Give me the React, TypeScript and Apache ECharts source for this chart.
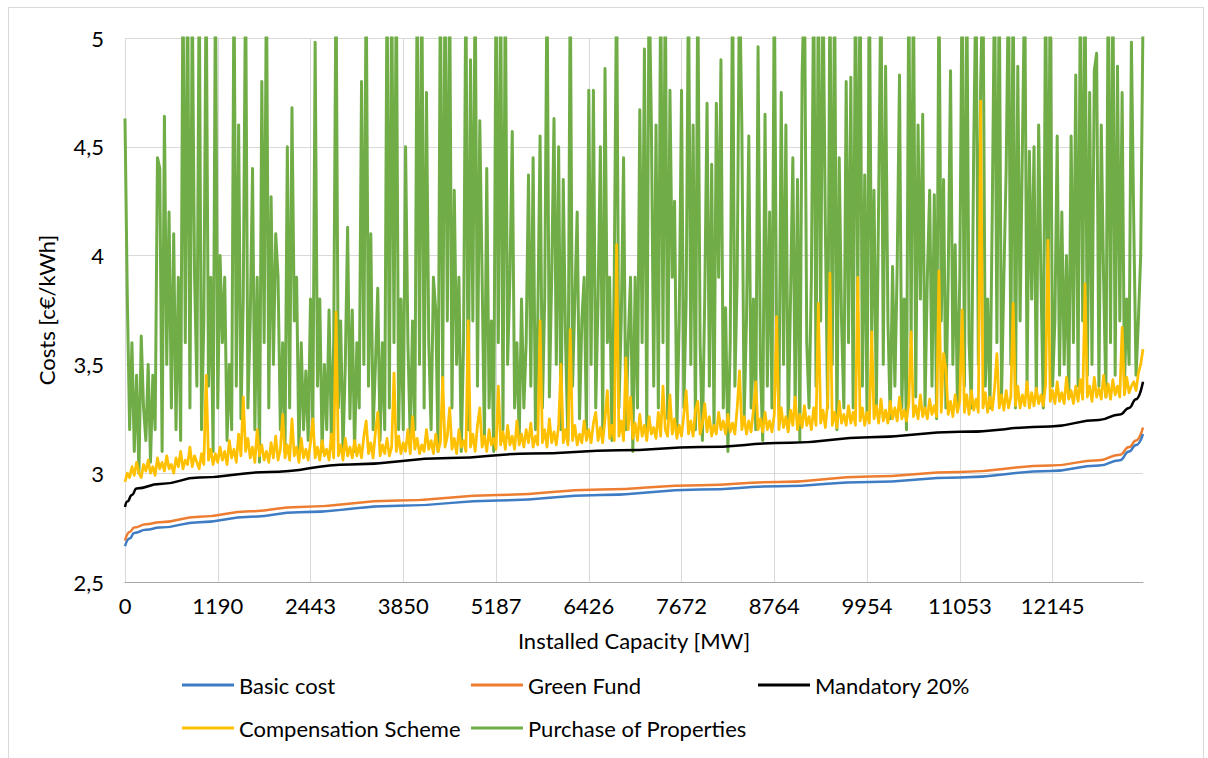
import React, { useEffect, useRef } from 'react';
import * as echarts from 'echarts';

// X-axis tick labels (installed capacity, MW), one every 40 points
const tickLabels = ['0', '1190', '2443', '3850', '5187', '6426', '7672', '8764', '9954', '11053', '12145'];
const pointsPerTick = 40;
const pointCount = 440;

// Smooth cost curves: [point index, c€/kWh]
const basicCost: [number, number][] = [
  [0, 2.665], [2, 2.70], [4, 2.725], [9, 2.74], [15, 2.75], [32, 2.775], [54, 2.80], [75, 2.82],
  [118, 2.85], [161, 2.875], [205, 2.90], [248, 2.925], [282, 2.94], [321, 2.96], [360, 2.98],
  [399, 3.01], [420, 3.035], [429, 3.06], [433, 3.10], [436, 3.13], [439, 3.18],
];
const greenFund: [number, number][] = [
  [0, 2.69], [2, 2.73], [4, 2.75], [9, 2.765], [15, 2.775], [32, 2.80], [54, 2.825], [75, 2.845],
  [118, 2.875], [161, 2.90], [205, 2.925], [248, 2.945], [282, 2.96], [321, 2.985], [360, 3.005],
  [399, 3.035], [420, 3.06], [429, 3.085], [433, 3.12], [436, 3.15], [439, 3.21],
];
const mandatory20: [number, number][] = [
  [0, 2.845], [1, 2.87], [3, 2.90], [5, 2.93], [15, 2.95], [32, 2.98], [62, 3.005], [97, 3.04],
  [140, 3.07], [175, 3.09], [213, 3.105], [248, 3.12], [287, 3.14], [321, 3.165], [360, 3.19],
  [399, 3.215], [420, 3.245], [429, 3.27], [433, 3.30], [436, 3.34], [439, 3.42],
];

// Compensation Scheme, one value per point
const compensation: number[] = [
  2.96, 3.0, 2.98, 3.03, 2.99, 3.05, 3.0, 2.98, 3.04, 3.01, 3.06, 3.0, 3.03, 2.99, 3.07, 3.02, 3.05, 3.01, 3.08, 3.02,
  3.04, 3.0, 3.07, 3.03, 3.1, 3.02, 3.06, 3.04, 3.12, 3.03, 3.08, 3.05, 3.02, 3.09, 3.04, 3.45, 3.06, 3.11, 3.04, 3.09,
  3.05, 3.12, 3.06, 3.1, 3.04, 3.15, 3.07, 3.11, 3.05, 3.18, 3.08, 3.35, 3.1, 3.16, 3.07, 3.12, 3.05, 3.2, 3.08, 3.13,
  3.06, 3.1, 3.05, 3.14, 3.07, 3.17, 3.06, 3.11, 3.27, 3.07, 3.13, 3.06, 3.25, 3.08, 3.12, 3.05, 3.16, 3.07, 3.11, 3.06,
  3.14, 3.25, 3.07, 3.12, 3.06, 3.15, 3.08, 3.11, 3.06, 3.18, 3.07, 3.74, 3.08, 3.13, 3.06, 3.16, 3.08, 3.12, 3.07, 3.15,
  3.08, 3.13, 3.07, 3.17, 3.24, 3.09, 3.14, 3.07, 3.19, 3.28, 3.08, 3.13, 3.09, 3.16, 3.08, 3.12, 3.46, 3.1, 3.17, 3.09,
  3.14, 3.1, 3.2, 3.09, 3.26, 3.11, 3.16, 3.09, 3.13, 3.1, 3.2, 3.11, 3.15, 3.09, 3.18, 3.1, 3.14, 3.44, 3.12, 3.17,
  3.3, 3.11, 3.16, 3.09, 3.2, 3.12, 3.15, 3.1, 3.7, 3.12, 3.18, 3.1, 3.22, 3.3, 3.12, 3.17, 3.1, 3.2, 3.13, 3.16,
  3.11, 3.4, 3.13, 3.19, 3.11, 3.22, 3.13, 3.17, 3.11, 3.24, 3.13, 3.18, 3.12, 3.2, 3.14, 3.23, 3.12, 3.17, 3.13, 3.7,
  3.14, 3.2, 3.12, 3.25, 3.14, 3.19, 3.13, 3.22, 3.5, 3.14, 3.2, 3.13, 3.66, 3.15, 3.22, 3.13, 3.18, 3.14, 3.24, 3.15,
  3.2, 3.14, 3.23, 3.28, 3.15, 3.21, 3.14, 3.25, 3.38, 3.16, 3.22, 3.15, 4.05, 3.17, 3.24, 3.15, 3.53, 3.2, 3.35, 3.16,
  3.23, 3.15, 3.27, 3.17, 3.22, 3.15, 3.26, 3.18, 3.21, 3.16, 3.28, 3.17, 3.4, 3.2, 3.17, 3.36, 3.18, 3.25, 3.16, 3.22,
  3.17, 3.27, 3.38, 3.18, 3.24, 3.17, 3.29, 3.33, 3.18, 3.23, 3.32, 3.19, 3.26, 3.17, 3.22, 3.18, 3.28, 3.2, 3.24, 3.18,
  3.27, 3.19, 3.23, 3.18, 3.3, 3.47, 3.2, 3.26, 3.18, 3.24, 3.19, 3.29, 3.42, 3.2, 3.25, 3.19, 3.28, 3.2, 3.24, 3.19,
  3.27, 3.72, 3.2, 3.3, 3.21, 3.26, 3.19, 3.29, 3.22, 3.35, 3.2, 3.27, 3.21, 3.31, 3.22, 3.26, 3.2, 3.3, 3.22, 3.78,
  3.23, 3.29, 3.21, 3.32, 3.92, 3.22, 3.28, 3.21, 3.33, 3.23, 3.27, 3.22, 3.31, 3.23, 3.28, 3.22, 3.9, 3.24, 3.3, 3.22,
  3.28, 3.23, 3.65, 3.25, 3.31, 3.23, 3.34, 3.24, 3.29, 3.23, 3.33, 3.25, 3.3, 3.24, 3.35, 3.25, 3.29, 3.24, 3.32, 3.65,
  3.26, 3.31, 3.25, 3.36, 3.26, 3.3, 3.25, 3.34, 3.27, 3.31, 3.26, 3.93, 3.28, 3.55, 3.48, 3.27, 3.33, 3.26, 3.36, 3.28,
  3.33, 3.75, 3.28, 3.36, 3.27, 3.38, 3.29, 3.34, 3.28, 4.71, 3.3, 3.37, 3.28, 3.35, 3.29, 3.39, 3.55, 3.3, 3.36, 3.29,
  3.38, 3.3, 3.35, 3.78, 3.31, 3.4, 3.3, 3.36, 3.31, 3.42, 3.3, 3.37, 3.31, 3.39, 3.32, 3.36, 3.31, 3.41, 4.07, 3.33,
  3.38, 3.32, 3.42, 3.33, 3.37, 3.32, 3.44, 3.34, 3.38, 3.32, 3.4, 3.33, 3.43, 3.34, 3.87, 3.35, 3.4, 3.33, 3.44, 3.35,
  3.39, 3.34, 3.45, 3.35, 3.41, 3.34, 3.43, 3.36, 3.4, 3.35, 3.67, 3.36, 3.44, 3.37, 3.4, 3.42, 3.38, 3.46, 3.5, 3.57,
];

// Purchase of Properties, one value per point
const purchase: number[] = [
  4.63, 3.8, 3.2, 3.6, 3.1, 3.45, 3.0, 3.63, 3.3, 3.15, 3.5, 3.05, 3.45, 3.2, 4.45, 4.4, 3.1, 4.64, 3.5, 4.2,
  3.3, 4.1, 3.2, 3.9, 3.15, 5.3, 3.6, 5.3, 3.3, 5.2, 3.9, 3.4, 5.3, 3.2, 3.7, 5.3, 3.4, 3.9, 3.1, 5.3,
  3.3, 4.0, 3.6, 3.9, 3.15, 3.5, 3.2, 5.3, 3.4, 4.6, 3.25, 3.8, 5.3, 3.3, 3.7, 4.4, 3.2, 3.9, 3.05, 4.8,
  3.6, 5.3, 3.3, 4.27, 3.5, 4.1, 3.9, 3.2, 3.6, 3.1, 4.5, 3.3, 4.68, 3.7, 3.9, 3.1, 3.6, 3.2, 3.47, 3.15,
  3.8, 3.2, 4.98, 3.4, 3.8, 3.1, 3.5, 3.2, 3.75, 3.15, 3.6, 5.3, 3.3, 3.7, 3.1, 3.5, 4.13, 3.25, 3.75, 3.1,
  3.6, 3.3, 4.8, 3.5, 5.3, 3.4, 4.1, 3.2, 3.5, 3.85, 3.15, 3.6, 3.2, 5.3, 3.3, 5.3, 3.6, 5.3, 3.2, 3.8,
  3.2, 4.5, 3.6, 3.15, 3.7, 3.2, 5.3, 3.5, 5.3, 3.3, 4.75, 3.6, 3.2, 3.9, 3.75, 3.1, 5.3, 3.4, 5.3, 3.7,
  5.3, 3.3, 4.3, 3.5, 3.9, 3.1, 3.6, 5.3, 3.2, 4.9, 3.7, 5.3, 3.4, 4.62, 3.9, 3.15, 4.4, 3.3, 3.7, 3.1,
  5.3, 3.6, 5.3, 3.2, 5.3, 3.5, 3.9, 4.57, 3.3, 3.6, 3.15, 3.8, 3.3, 3.6, 4.37, 3.4, 4.45, 3.2, 3.7, 4.55,
  3.3, 3.8, 5.3, 3.35, 3.9, 4.63, 3.5, 4.5, 3.2, 4.35, 3.6, 3.15, 5.3, 3.4, 3.8, 4.2, 3.25, 3.7, 3.9, 3.2,
  4.76, 3.5, 4.76, 3.3, 3.8, 4.5, 3.2, 4.86, 3.6, 3.9, 3.15, 3.92, 5.3, 3.3, 3.7, 4.45, 3.2, 3.6, 3.9, 3.1,
  3.9, 3.3, 4.67, 3.6, 4.95, 3.2, 5.3, 4.6, 3.4, 4.6, 3.3, 5.3, 3.6, 5.3, 3.25, 4.76, 3.9, 4.25, 3.2, 3.7,
  4.76, 3.3, 3.8, 5.3, 3.5, 4.6, 3.2, 5.3, 3.6, 3.15, 3.8, 4.7, 3.4, 4.42, 3.2, 4.7, 3.9, 4.9, 3.3, 3.76,
  3.1, 3.6, 5.3, 3.4, 3.9, 5.3, 4.6, 3.25, 3.7, 4.55, 3.3, 3.8, 3.2, 4.96, 3.5, 3.15, 4.65, 3.4, 4.2, 3.3,
  5.3, 3.6, 3.3, 4.75, 3.5, 4.6, 3.2, 3.8, 4.45, 3.3, 4.35, 3.15, 4.83, 5.3, 3.6, 3.3, 3.9, 5.3, 3.4, 5.3,
  3.7, 5.3, 4.15, 3.3, 5.3, 3.5, 5.3, 3.2, 4.45, 3.7, 3.3, 4.8, 3.6, 4.82, 3.3, 5.3, 3.8, 5.3, 3.4, 4.37,
  3.25, 5.3, 3.6, 4.3, 3.3, 4.25, 5.3, 3.5, 4.87, 3.7, 3.25, 3.95, 3.4, 3.95, 4.83, 3.3, 3.8, 3.2, 5.3, 3.6,
  5.3, 3.35, 4.6, 3.8, 4.65, 3.3, 3.9, 4.3, 3.4, 4.28, 3.25, 5.3, 3.7, 4.35, 3.3, 3.9, 4.85, 3.5, 4.05, 3.3,
  3.9, 5.3, 3.4, 5.3, 3.6, 3.3, 4.5, 5.3, 3.5, 4.8, 5.3, 3.4, 3.8, 3.3, 4.2, 5.3, 3.6, 5.3, 3.35, 3.9,
  4.4, 5.3, 3.5, 5.3, 3.3, 4.87, 3.7, 4.5, 5.3, 3.4, 4.48, 3.8, 4.5, 3.35, 4.6, 3.9, 3.3, 5.3, 3.7, 5.3,
  3.4, 3.7, 4.55, 3.45, 4.2, 3.5, 4.0, 3.35, 4.55, 3.6, 4.83, 3.4, 5.3, 3.7, 5.3, 3.45, 4.75, 3.5, 4.85, 4.93,
  3.4, 4.6, 3.9, 3.35, 5.3, 3.6, 5.3, 3.45, 4.87, 3.7, 4.75, 3.4, 3.8, 3.5, 4.98, 4.16, 3.45, 3.7, 4.0, 5.1,
];

const FONT = 'Lato';

export default function App() {
  const ref = useRef<HTMLDivElement>(null);

  useEffect(() => {
    if (!ref.current) return;
    const chart = echarts.init(ref.current, undefined, { renderer: 'svg' });
    const categories = Array.from({ length: pointCount }, (_, i) =>
      i % pointsPerTick === 0 ? tickLabels[i / pointsPerTick] : ''
    );
    const legendText = { fontFamily: FONT, fontSize: 22, color: '#000' };
    const mkLegend = (name: string, left: number, top: number) => ({
      data: [name],
      left,
      top,
      padding: 0,
      icon: 'rect',
      itemWidth: 52,
      itemHeight: 3,
      textStyle: legendText,
      selectedMode: false,
    });
    const line = (name: string, data: any, color: string, width: number, z: number, smooth = false) => ({
      name,
      type: 'line',
      data,
      showSymbol: false,
      symbol: 'none',
      smooth,
      smoothMonotone: 'x',
      lineStyle: { color, width, join: 'round' },
      itemStyle: { color },
      z,
      silent: true,
      emphasis: { disabled: true },
    });

    chart.setOption({
      animation: false,
      backgroundColor: '#fff',
      grid: { left: 116, top: 30, width: 1018, height: 544, containLabel: false },
      legend: [
        mkLegend('Basic cost', 173, 666),
        mkLegend('Green Fund', 462, 666),
        mkLegend('Mandatory 20%', 749, 666),
        mkLegend('Compensation Scheme', 173, 709),
        mkLegend('Purchase of Properties', 462, 709),
      ],
      xAxis: {
        type: 'category',
        data: categories,
        boundaryGap: false,
        name: 'Installed Capacity [MW]',
        nameLocation: 'middle',
        nameGap: 47,
        nameTextStyle: { fontFamily: FONT, fontSize: 22, color: '#000' },
        axisLine: { show: true, lineStyle: { color: '#A6A6A6', width: 1 } },
        axisTick: { show: false },
        axisLabel: {
          interval: pointsPerTick - 1,
          margin: 12,
          fontFamily: FONT,
          fontSize: 22,
          color: '#000',
        },
        splitLine: { show: true, interval: pointsPerTick - 1, lineStyle: { color: '#D9D9D9', width: 1 } },
      },
      yAxis: {
        type: 'value',
        min: 2.5,
        max: 5,
        interval: 0.5,
        name: 'Costs [c€/kWh]',
        nameLocation: 'middle',
        nameRotate: 90,
        nameGap: 68,
        nameTextStyle: { fontFamily: FONT, fontSize: 22, color: '#000' },
        axisLine: { show: false },
        axisTick: { show: false },
        axisLabel: {
          margin: 21,
          fontFamily: FONT,
          fontSize: 22,
          color: '#000',
          formatter: (v: number) => String(v).replace('.', ','),
        },
        splitLine: { show: true, lineStyle: { color: '#D9D9D9', width: 1 } },
      },
      series: [
        line('Purchase of Properties', purchase, '#70AD47', 3, 1),
        line('Compensation Scheme', compensation, '#FFC000', 2.75, 2),
        line('Mandatory 20%', mandatory20, '#000000', 2.5, 3, true),
        line('Green Fund', greenFund, '#ED7D31', 2.5, 4, true),
        line('Basic cost', basicCost, '#3E7CC4', 2.5, 5, true),
      ],
    });
    return () => chart.dispose();
  }, []);

  return (
    <div
      style={{
        position: 'absolute',
        left: 8,
        top: 7,
        width: 1196,
        height: 751,
        boxSizing: 'border-box',
        borderTop: '1px solid #D9D9D9',
        borderLeft: '1px solid #D9D9D9',
        borderRight: '1px solid #D9D9D9',
        background: '#fff',
      }}
    >
      <div ref={ref} style={{ width: 1194, height: 750 }} />
    </div>
  );
}
